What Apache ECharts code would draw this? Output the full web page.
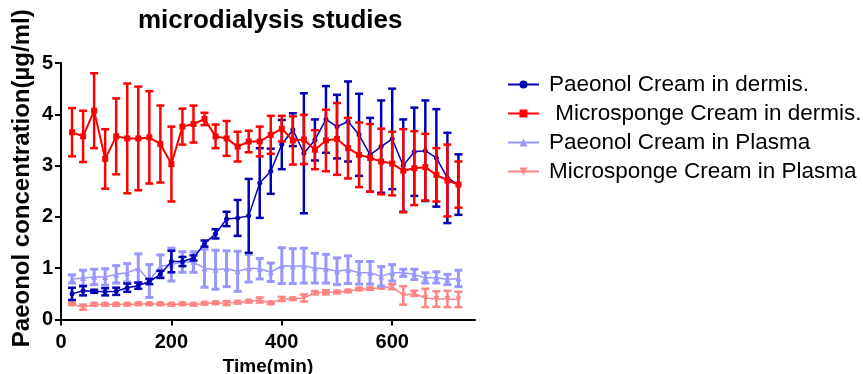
<!DOCTYPE html>
<html>
<head>
<meta charset="utf-8">
<script src="https://cdn.jsdelivr.net/npm/echarts@6/dist/echarts.min.js"></script>
<style>html,body{margin:0;padding:0;background:#fff;}#c{width:863px;height:374px;}</style>
</head>
<body>
<div id="c"></div>
<script>
const chartTitle = 'microdialysis studies';
const xName = 'Time(min)';
const yName = 'Paeonol concentration(µg/ml)';
const seriesNames = ['Paeonol Cream in dermis.', ' Microsponge Cream in dermis.', 'Paeonol Cream in Plasma', 'Microsponge Cream in Plasma'];
const xTicks = [0, 200, 400, 600];
const yTicks = [0, 1, 2, 3, 4, 5];

const time = [20,40,60,80,100,120,140,160,180,200,220,240,260,280,300,320,340,360,380,400,420,440,460,480,500,520,540,560,580,600,620,640,660,680,700,720];

const pcDermis =    [0.50,0.56,0.55,0.54,0.55,0.62,0.66,0.74,0.88,1.13,1.13,1.20,1.48,1.67,1.96,1.98,2.02,2.66,2.89,3.41,3.70,3.24,3.50,3.90,3.76,3.86,3.60,3.21,3.37,3.52,3.00,3.27,3.29,3.15,2.76,2.63];
const pcDermisErr = [0.12,0.09,0.03,0.07,0.07,0.08,0.06,0.05,0.07,0.21,0.09,0.05,0.06,0.09,0.14,0.35,0.72,0.68,0.44,0.48,0.32,1.17,0.40,0.65,0.62,0.78,0.80,0.72,0.90,0.98,0.90,0.86,0.98,0.95,0.88,0.59];

const msDermis =    [3.65,3.57,4.07,3.13,3.57,3.53,3.53,3.55,3.42,3.03,3.76,3.81,3.91,3.57,3.53,3.37,3.47,3.47,3.60,3.72,3.49,3.51,3.31,3.49,3.52,3.34,3.21,3.15,3.08,3.04,2.90,2.95,2.97,2.82,2.71,2.63];
const msDermisErr = [0.47,0.50,0.73,0.58,0.74,1.07,1.01,0.90,0.75,0.73,0.35,0.36,0.12,0.23,0.34,0.29,0.21,0.29,0.37,0.25,0.47,0.48,0.38,0.60,0.70,0.59,0.63,0.66,0.64,0.62,0.81,0.72,0.65,0.52,0.70,0.45];

const pcPlasma =    [0.79,0.81,0.83,0.83,0.88,0.91,1.00,0.75,1.04,1.07,1.12,1.12,1.00,0.97,0.99,0.94,1.00,0.99,0.92,1.05,1.04,1.05,1.00,0.99,0.94,0.97,0.91,0.91,0.84,0.91,0.91,0.88,0.81,0.82,0.78,0.80];
const pcPlasmaErr = [0.08,0.15,0.15,0.16,0.17,0.18,0.28,0.32,0.22,0.32,0.20,0.20,0.37,0.38,0.35,0.39,0.27,0.20,0.18,0.35,0.34,0.34,0.29,0.28,0.26,0.27,0.22,0.22,0.19,0.16,0.07,0.10,0.10,0.11,0.10,0.16];

const msPlasma =    [0.30,0.24,0.29,0.29,0.29,0.29,0.30,0.30,0.30,0.29,0.30,0.29,0.31,0.32,0.32,0.33,0.35,0.38,0.32,0.40,0.40,0.42,0.52,0.53,0.53,0.55,0.59,0.60,0.62,0.64,0.47,0.51,0.42,0.40,0.40,0.39];
const msPlasmaErr = [0.02,0.05,0.02,0.02,0.02,0.02,0.02,0.02,0.02,0.02,0.02,0.02,0.02,0.02,0.04,0.02,0.02,0.05,0.02,0.04,0.02,0.07,0.03,0.04,0.02,0.02,0.02,0.02,0.02,0.05,0.18,0.05,0.18,0.15,0.16,0.15];

const colors = ['#0000b4', '#ff0000', '#9797ff', '#ff8585'];
const FONT = 'Liberation Sans';

function lineSeries(name, vals, color, symbol, size, lw, z, rot) {
  return {
    name: name, type: 'line', z: z,
    data: time.map((t, i) => [t, vals[i]]),
    symbol: symbol, symbolSize: size, symbolRotate: rot || 0,
    lineStyle: {color: color, width: lw},
    itemStyle: {color: color},
    emphasis: {disabled: true},
    animation: false
  };
}
function errSeries(vals, errs, color, lw, z) {
  return {
    type: 'custom', z: z, silent: true, animation: false,
    data: time.map((t, i) => [t, vals[i] - errs[i], vals[i] + errs[i]]),
    renderItem: function (params, api) {
      const x = api.value(0);
      const lo = api.coord([x, api.value(1)]);
      const hi = api.coord([x, api.value(2)]);
      const cw = 4;
      const st = {stroke: color, lineWidth: lw};
      return {
        type: 'group',
        children: [
          {type: 'line', shape: {x1: lo[0], y1: lo[1], x2: hi[0], y2: hi[1]}, style: st},
          {type: 'line', shape: {x1: hi[0] - cw, y1: hi[1], x2: hi[0] + cw, y2: hi[1]}, style: st},
          {type: 'line', shape: {x1: lo[0] - cw, y1: lo[1], x2: lo[0] + cw, y2: lo[1]}, style: st}
        ]
      };
    }
  };
}

const chart = echarts.init(document.getElementById('c'), null, {renderer: 'canvas'});
chart.setOption({
  animation: false,
  backgroundColor: '#fff',
  title: {
    text: chartTitle, left: 133, top: 3,
    textStyle: {fontFamily: FONT, fontWeight: 'bold', fontSize: 26, color: '#000'}
  },
  legend: {
    data: seriesNames.map(n => ({name: n})),
    orient: 'vertical', left: 502, top: 68,
    itemWidth: 31, itemHeight: 10, itemGap: 6,
    textStyle: {fontFamily: FONT, fontSize: 22.5, color: '#000', lineHeight: 22, padding: [0, 0, 0, 5]},
    selectedMode: false
  },
  grid: {left: 61, top: 63, width: 414, height: 256.5, containLabel: false, outerBoundsMode: 'none'},
  xAxis: {
    type: 'value', min: 0, max: 750, interval: 200,
    name: xName, nameLocation: 'middle', nameGap: 37,
    nameTextStyle: {fontFamily: FONT, fontWeight: 'bold', fontSize: 19, color: '#000'},
    axisLine: {lineStyle: {color: '#000', width: 2}},
    axisTick: {show: true, inside: false, length: 6, lineStyle: {color: '#000', width: 2}, customValues: xTicks},
    axisLabel: {fontFamily: FONT, fontWeight: 'bold', fontSize: 20, color: '#000', margin: 13, customValues: xTicks},
    splitLine: {show: false}
  },
  yAxis: {
    type: 'value', min: 0, max: 5, interval: 1,
    name: yName, nameLocation: 'middle', nameGap: 27,
    nameTextStyle: {fontFamily: FONT, fontWeight: 'bold', fontSize: 24, color: '#000', padding: [0, 0, 0, 26]},
    axisLine: {show: true, lineStyle: {color: '#000', width: 2}},
    axisTick: {show: true, inside: false, length: 6, lineStyle: {color: '#000', width: 2}},
    axisLabel: {fontFamily: FONT, fontWeight: 'bold', fontSize: 20, color: '#000', margin: 8,
      customValues: yTicks},
    splitLine: {show: false}
  },
  series: [
    errSeries(msPlasma, msPlasmaErr, colors[3], 2.5, 1),
    lineSeries(seriesNames[3], msPlasma, colors[3], 'triangle', 6, 1.5, 2, 180),
    errSeries(pcPlasma, pcPlasmaErr, colors[2], 3, 3),
    lineSeries(seriesNames[2], pcPlasma, colors[2], 'triangle', 6, 1.5, 4),
    errSeries(pcDermis, pcDermisErr, colors[0], 2.5, 5),
    lineSeries(seriesNames[0], pcDermis, colors[0], 'circle', 5, 1.5, 6),
    errSeries(msDermis, msDermisErr, colors[1], 2.5, 7),
    lineSeries(seriesNames[1], msDermis, colors[1], 'rect', 6, 2, 8)
  ]
});
</script>
</body>
</html>
